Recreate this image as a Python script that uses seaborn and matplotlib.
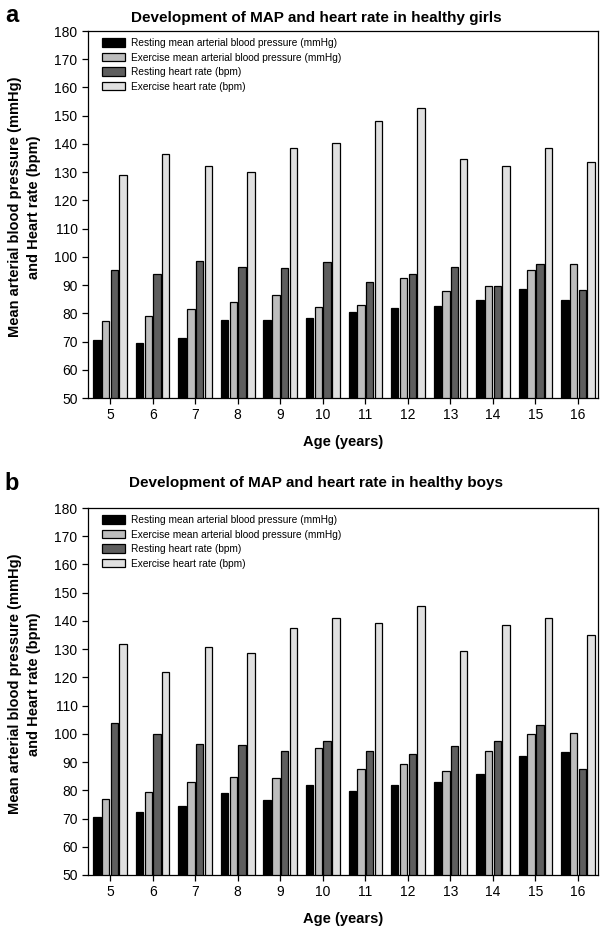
import matplotlib
matplotlib.use("Agg")
import matplotlib.pyplot as plt
import seaborn as sns
import pandas as pd

ages = ["5", "6", "7", "8", "9", "10", "11", "12", "13", "14", "15", "16"]
series_names = [
    "Resting mean arterial blood pressure (mmHg)",
    "Exercise mean arterial blood pressure (mmHg)",
    "Resting heart rate (bpm)",
    "Exercise heart rate (bpm)",
]
colors = ["#000000", "#bdbdbd", "#5e5e5e", "#e0e0e0"]

girls_rest_map = [70.7, 69.5, 71.3, 77.8, 77.5, 78.2, 80.5, 82.0, 82.5, 84.8, 88.7, 84.6]
girls_ex_map = [77.3, 79.2, 81.7, 84.0, 86.6, 82.3, 83.0, 92.5, 87.8, 89.5, 95.5, 97.5]
girls_rest_hr = [95.5, 94.0, 98.7, 96.5, 96.2, 98.2, 91.0, 93.8, 96.3, 89.8, 97.3, 88.2]
girls_ex_hr = [129.0, 136.5, 132.3, 130.0, 138.7, 140.2, 148.0, 152.8, 134.6, 132.3, 138.6, 133.6]

boys_rest_map = [70.5, 72.2, 74.3, 79.0, 76.6, 81.9, 79.8, 81.8, 82.9, 85.9, 92.3, 93.4]
boys_ex_map = [77.0, 79.5, 83.0, 84.6, 84.4, 95.0, 87.6, 89.2, 86.9, 93.8, 100.1, 100.3]
boys_rest_hr = [103.7, 99.8, 96.4, 95.9, 93.9, 97.4, 93.8, 92.8, 95.6, 97.6, 103.3, 87.7]
boys_ex_hr = [132.0, 122.0, 130.7, 128.6, 137.6, 141.0, 139.3, 145.3, 129.3, 138.5, 141.0, 135.0]

y_ticks = list(range(50, 181, 10))


def make_df(vals):
    rows = []
    for name, arr in zip(series_names, vals):
        for a, v in zip(ages, arr):
            rows.append({"Age": a, "Series": name, "Value": v})
    return pd.DataFrame(rows)


sns.set_theme(style="ticks")
plt.rcParams["font.family"] = ["Liberation Sans", "DejaVu Sans"]
plt.rcParams["text.color"] = "#000000"
plt.rcParams["axes.labelcolor"] = "#000000"
plt.rcParams["xtick.color"] = "#000000"
plt.rcParams["ytick.color"] = "#000000"

H = 932.0
fig = plt.figure(figsize=(6.0, 9.32), dpi=100)
ax1 = fig.add_axes([88 / 600, 1 - 398 / H, 510 / 600, 367 / H])
ax2 = fig.add_axes([88 / 600, 1 - 875 / H, 510 / 600, 367 / H])

panels = [
    (ax1, [girls_rest_map, girls_ex_map, girls_rest_hr, girls_ex_hr],
     "Development of MAP and heart rate in healthy girls", "a", 22, 22),
    (ax2, [boys_rest_map, boys_ex_map, boys_rest_hr, boys_ex_hr],
     "Development of MAP and heart rate in healthy boys", "b", 487, 490),
]

for ax, vals, title, letter, ty, ly in panels:
    df = make_df(vals)
    sns.barplot(data=df, x="Age", y="Value", hue="Series", order=ages,
                hue_order=series_names, palette=colors, ax=ax,
                width=0.82, gap=0.15, edgecolor="#000000", linewidth=0.9,
                saturation=1)
    ax.set_ylim(50, 180)
    ax.set_xlim(-0.52, 11.47)
    ax.set_yticks(y_ticks)
    ax.tick_params(axis="both", labelsize=10, length=4.5, width=0.9,
                   direction="out", colors="#000000", pad=3)
    for s in ax.spines.values():
        s.set_visible(True)
        s.set_color("#000000")
        s.set_linewidth(0.9)
    ax.set_xlabel("Age (years)", fontsize=10.5, fontweight="bold", labelpad=9,
                  color="#000000")
    ax.set_ylabel("Mean arterial blood pressure (mmHg)\nand Heart rate (bpm)",
                  fontsize=10.5, fontweight="bold", linespacing=1.45,
                  color="#000000")
    ax.yaxis.set_label_coords(-0.093, 0.52)
    leg = ax.legend(loc="upper left", bbox_to_anchor=(0.0275, 0.981),
                    borderaxespad=0, borderpad=0, frameon=False, fontsize=7.25,
                    handlelength=2.3, handleheight=0.9, labelspacing=0.45,
                    handletextpad=0.6)
    for t in leg.get_texts():
        t.set_color("#000000")
    for h in leg.legend_handles:
        h.set_edgecolor("#000000")
        h.set_linewidth(0.9)
    fig.text(0.527, 1 - ty / H, title, ha="center", va="baseline",
             fontsize=11, fontweight="bold", color="#000000")
    fig.text(0.008, 1 - ly / H, letter, ha="left", va="baseline",
             fontsize=17, fontweight="bold", color="#000000")

fig.savefig("out.png", dpi=100)
